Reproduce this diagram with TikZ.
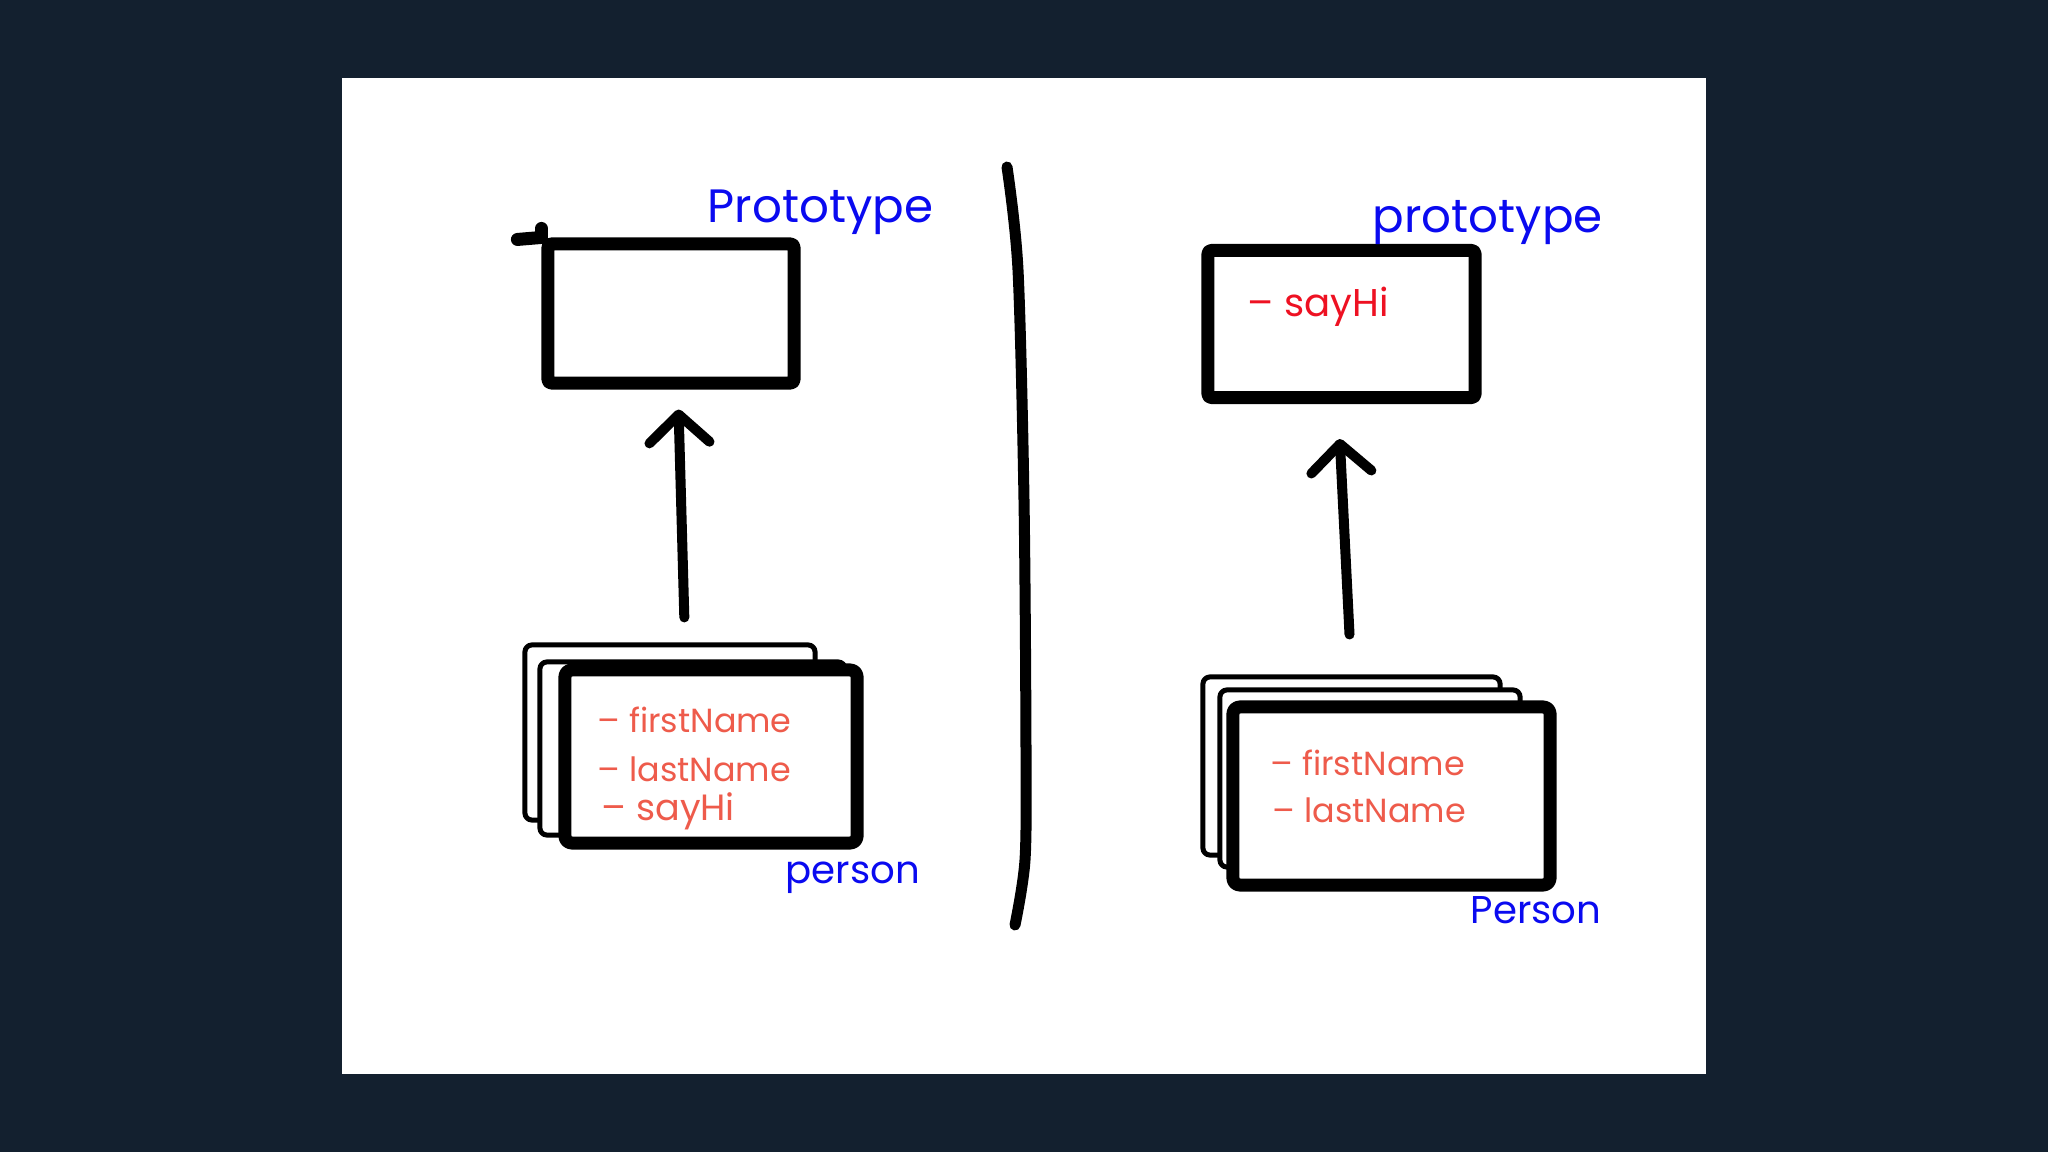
\documentclass[tikz,border=0pt]{standalone}
\usepackage{fontspec}
\setmainfont{Poppins}
\usetikzlibrary{arrows.meta}
\definecolor{pagebg}{HTML}{13202F}
\definecolor{penblue}{HTML}{0A0AF0}
\definecolor{penred}{HTML}{EE1122}
\definecolor{pensalmon}{HTML}{EE5B4B}

\begin{document}
\begin{tikzpicture}[x=0.01cm,y=-0.01cm,
    card/.style={draw,fill=white,line width=0.05cm,rounded corners=2pt,line join=round,inner sep=0pt},
    frontcard/.style={card,line width=0.13cm},
    protobox/.style={draw,fill=white,line width=0.13cm,rounded corners=1pt,line join=round,inner sep=0pt},
    namelabel/.style={text=penblue,font=\fontsize{13.3}{16}\selectfont,anchor=base west,inner sep=0pt},
    objlabel/.style={namelabel,font=\fontsize{11}{13}\selectfont},
    field/.style={text=pensalmon,font=\fontsize{9.5}{12}\selectfont,anchor=base west,inner sep=0pt},
    method/.style={field,font=\fontsize{10.4}{13}\selectfont},
    arrowline/.style={line width=0.1cm,line cap=round,-{Straight Barb[round,length=0.28cm,width=0.6cm]}}]

  \fill[pagebg] (0,0) rectangle (2048,1152);
  \fill[white] (342,78) rectangle (1706,1074);

  \begin{scope}[every node/.style={protobox}]
    \node[minimum width=2.46cm,minimum height=1.39cm] (lproto) at (671,313.5) {};
    \node[minimum width=2.67cm,minimum height=1.47cm] (rproto) at (1341.5,324) {};
  \end{scope}
  \draw[line width=0.13cm,line cap=round] ([xshift=-0.24cm,yshift=-0.02cm]lproto.north west) -- (lproto.north west);
  \draw[line width=0.13cm,line cap=round] (lproto.north west) -- ++(0,-9);

  \begin{scope}[every node/.style={card}]
    \node[minimum width=2.90cm,minimum height=1.75cm] (lback) at (670,732.5) {};
    \node[minimum width=3.05cm,minimum height=1.73cm] (lmid) at (692.5,748.5) {};
    \node[frontcard,minimum width=2.92cm,minimum height=1.73cm] (lfront) at (711,756.5) {};
    \node[minimum width=2.97cm,minimum height=1.78cm] (rback) at (1351.5,766) {};
    \node[minimum width=3.00cm,minimum height=1.77cm] (rmid) at (1370,778.5) {};
    \node[frontcard,minimum width=3.17cm,minimum height=1.78cm] (rfront) at (1391.5,796) {};
  \end{scope}

  \begin{scope}[every node/.style={namelabel}]
    \node (lprotoname) at (707,223) {Prototype};
    \node (rprotoname) at (1372,233) {prototype};
    \node[objlabel] (lpersonname) at (785,883) {person};
    \node[objlabel] (rpersonname) at (1470,923) {Person};
  \end{scope}

  \begin{scope}[every node/.style={field}]
    \node (lfirst) at (597,732) {– firstName};
    \node (llast) at (597,781) {– lastName};
    \node[method] (lsay) at (601,820) {– sayHi};
    \node (rfirst) at (1270,775) {– firstName};
    \node (rlast) at (1272,822) {– lastName};
    \node[method,font=\fontsize{11}{13}\selectfont,text=penred] (rsay) at (1247,317) {– sayHi};
  \end{scope}

  \draw[arrowline,shorten <=0.25cm,shorten >=0.2cm]
    ([xshift=0.15cm]lback.north) -- ([xshift=0.07cm]lproto.south);
  \draw[arrowline,shorten <=0.4cm,shorten >=0.35cm]
    (rback.north) -- ([xshift=-0.035cm]rproto.south);

  \draw[line width=0.11cm,line cap=round] plot[smooth] coordinates
    {(1007,167) (1018,270) (1024,500) (1026,750) (1025,860) (1015,925)};

\end{tikzpicture}
\end{document}
